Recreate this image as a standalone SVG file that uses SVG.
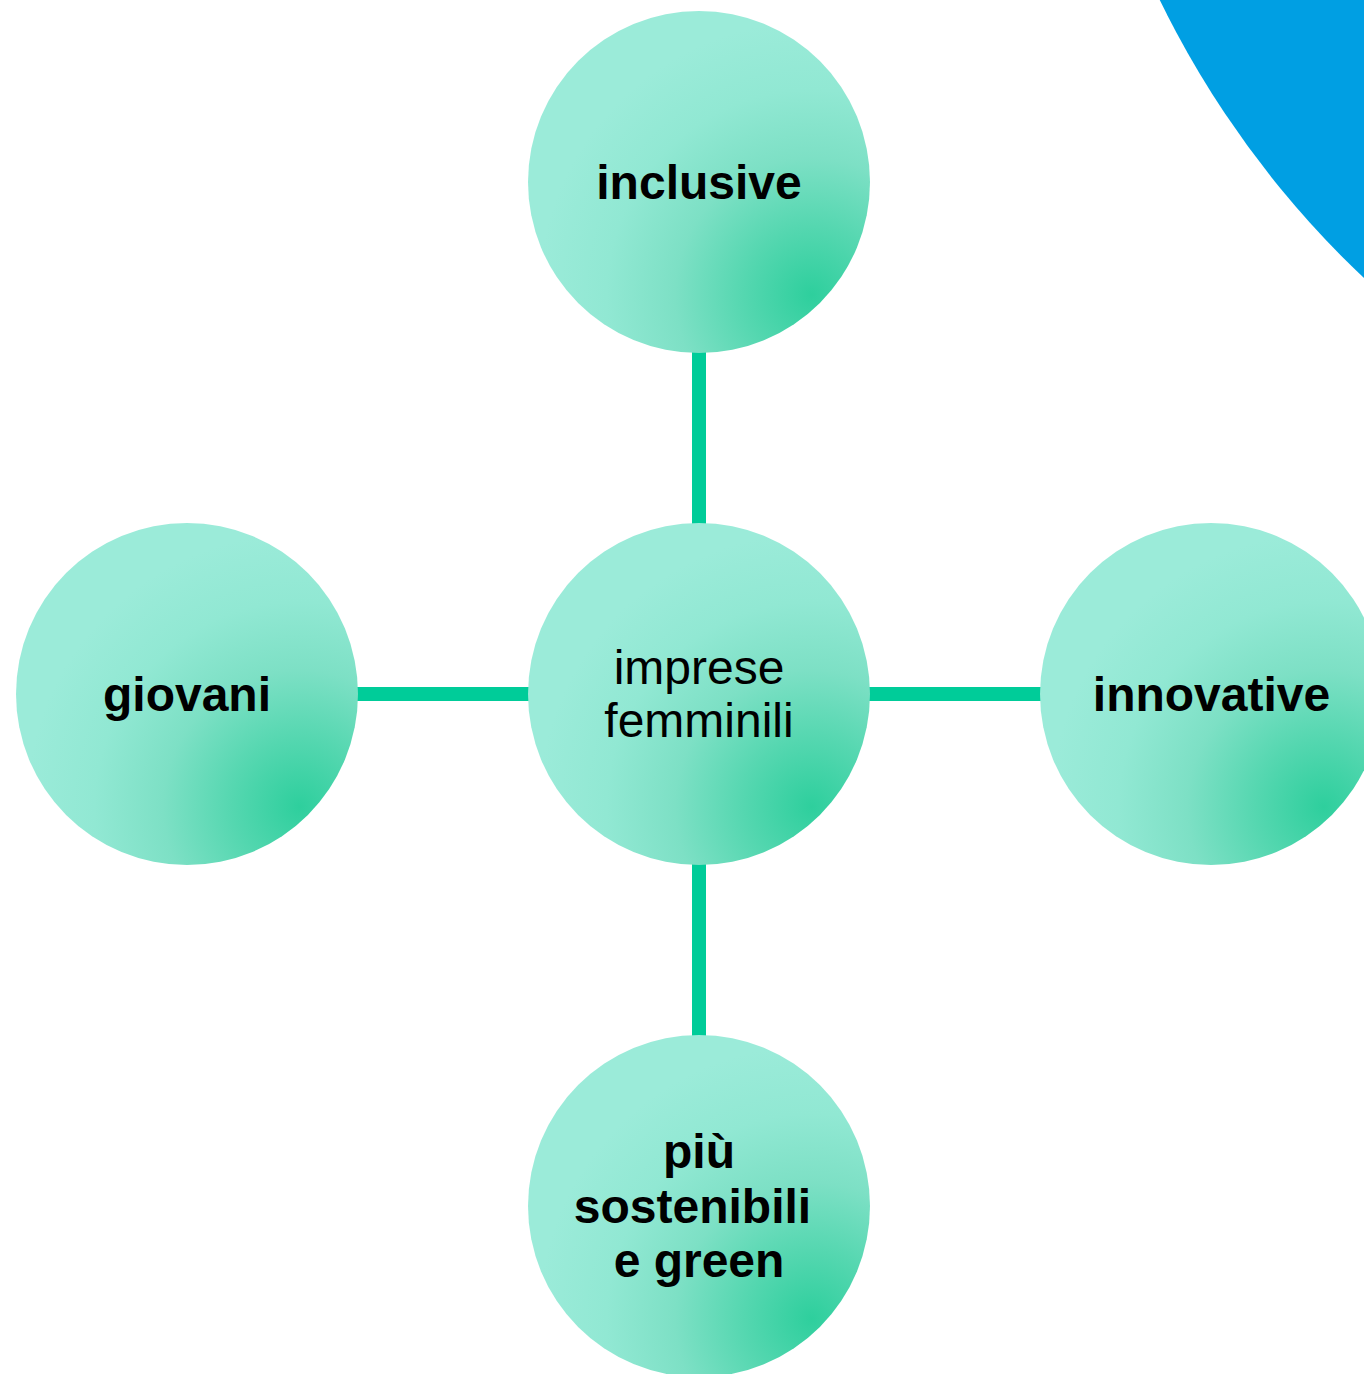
<svg xmlns="http://www.w3.org/2000/svg" width="1364" height="1374" viewBox="0 0 1364 1374">
<defs>
<radialGradient id="g" cx="0.83" cy="0.83" r="0.8" fx="0.83" fy="0.83">
<stop offset="0" stop-color="#2ecf9d"/>
<stop offset="0.25" stop-color="#55d7b0"/>
<stop offset="0.5" stop-color="#7de0c5"/>
<stop offset="0.75" stop-color="#91e8d3"/>
<stop offset="1" stop-color="#9bebd9"/>
</radialGradient>
<style>
.n{fill:url(#g);}
.c{stroke:#00cc99;stroke-width:14;fill:none;}
.t{font-family:"Liberation Sans",Arial,sans-serif;font-size:48px;fill:#000;text-anchor:middle;}
.b{font-weight:bold;}
</style>
</defs>
<rect width="1364" height="1374" fill="#fff"/>
<circle cx="2023" cy="-420" r="960" fill="#009fe3"/>
<g id="connectors">
<line class="c" x1="699" y1="352" x2="699" y2="524"/>
<line class="c" x1="699" y1="864" x2="699" y2="1036"/>
<line class="c" x1="357" y1="694" x2="529" y2="694"/>
<line class="c" x1="869" y1="694" x2="1041" y2="694"/>
</g>
<g id="node-center">
<circle class="n" cx="699" cy="694" r="171"/>
<text class="t" x="699" y="684">imprese</text>
<text class="t" x="699" y="737">femminili</text>
</g>
<g id="node-top">
<circle class="n" cx="699" cy="182" r="171"/>
<text class="t b" x="699" y="199">inclusive</text>
</g>
<g id="node-left">
<circle class="n" cx="187" cy="694" r="171"/>
<text class="t b" x="187" y="711">giovani</text>
</g>
<g id="node-right">
<circle class="n" cx="1211" cy="694" r="171"/>
<text class="t b" x="1211.5" y="711">innovative</text>
</g>
<g id="node-bottom">
<circle class="n" cx="699" cy="1206" r="171"/>
<text class="t b" x="699" y="1168">più</text>
<text class="t b" x="692.5" y="1223">sostenibili</text>
<text class="t b" x="699" y="1277">e green</text>
</g>
</svg>
